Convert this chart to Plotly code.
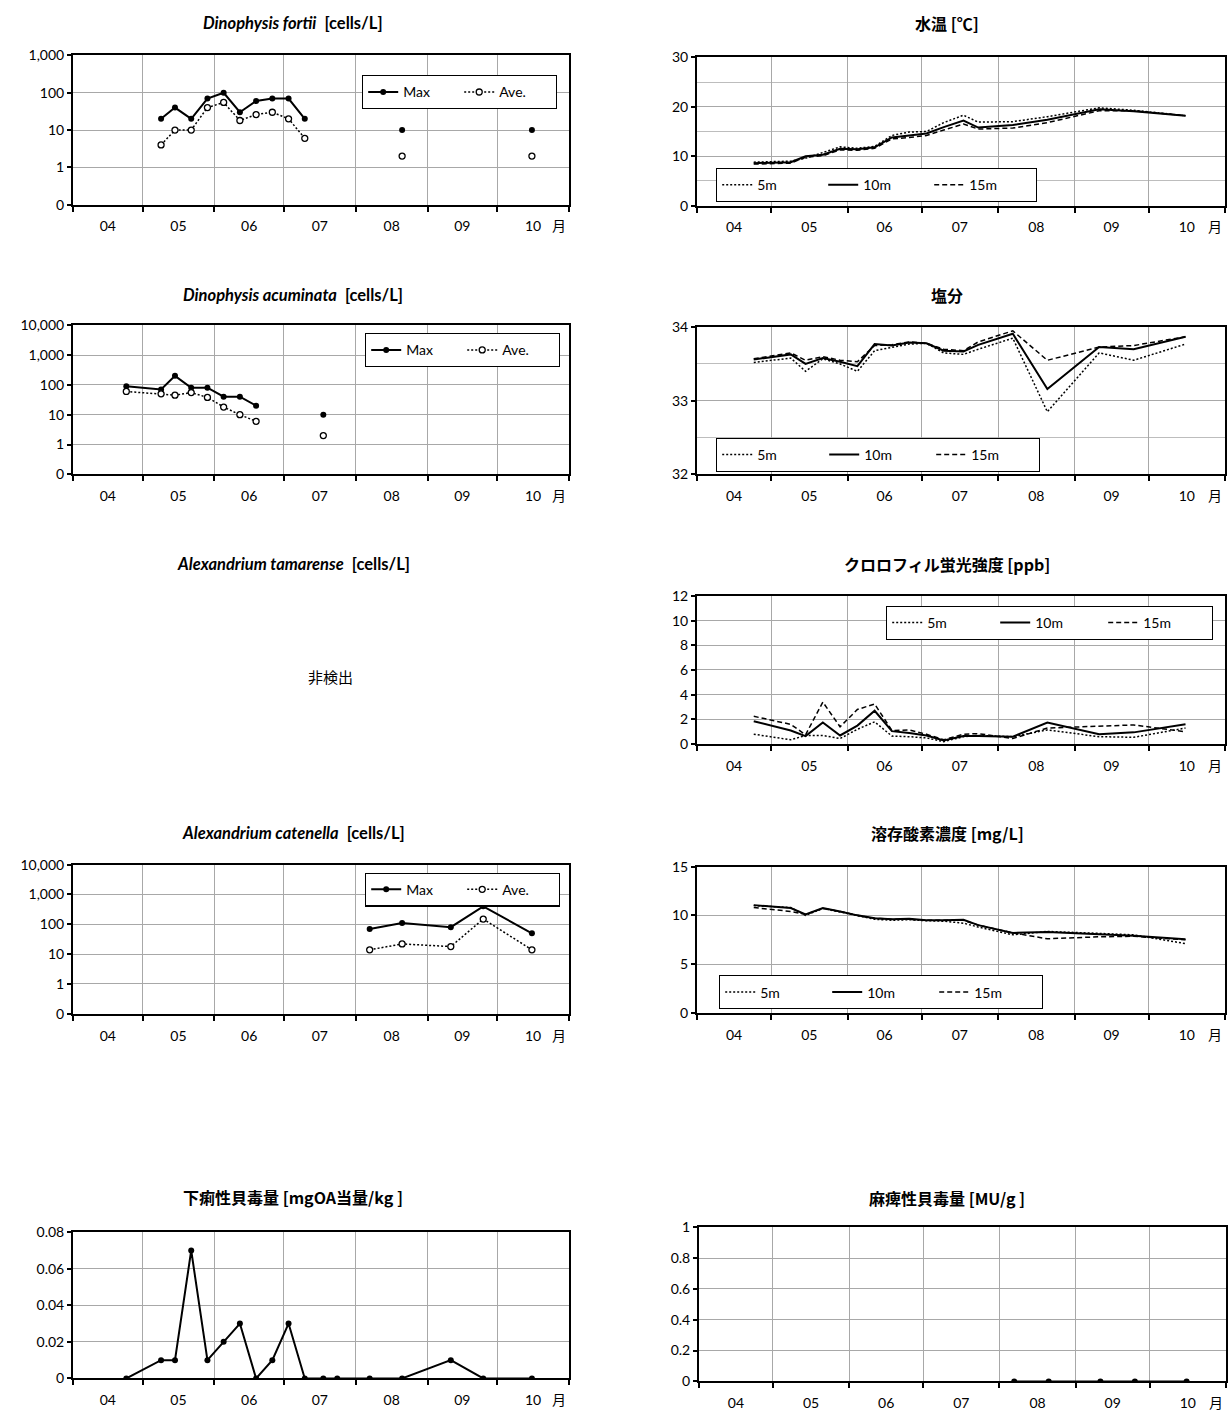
import plotly.graph_objects as go

W, H = 1232, 1421
YEAR = "2014"

# ---------------- data ----------------
sample_dates = ["04-24", "05-09", "05-15", "05-22", "05-29", "06-05", "06-12", "06-19", "06-26",
                "07-03", "07-10", "07-18", "07-24", "08-07", "08-21", "09-11", "09-25", "10-16"]
month_labels = ["04", "05", "06", "07", "08", "09", "10"]

fortii_max = [None, 20, 40, 20, 70, 100, 30, 60, 70, 70, 20, None, None, None, 10, None, None, 10]
fortii_ave = [None, 4, 10, 10, 40, 55, 18, 26, 30, 20, 6, None, None, None, 2, None, None, 2]

acum_max = [90, 70, 200, 80, 80, 40, 40, 20, None, None, None, 10, None, None, None, None, None, None]
acum_ave = [60, 50, 45, 55, 38, 18, 10, 6, None, None, None, 2, None, None, None, None, None, None]

cat_max = [None, None, None, None, None, None, None, None, None, None, None, None, None, 70, 110, 80, 400, 50]
cat_ave = [None, None, None, None, None, None, None, None, None, None, None, None, None, 14, 22, 18, 150, 14]

dsp = [0, 0.01, 0.01, 0.07, 0.01, 0.02, 0.03, 0, 0.01, 0.03, 0, 0, 0, 0, 0, 0.01, 0, 0]
psp = [None, None, None, None, None, None, None, None, None, None, None, None, None, 0, 0, 0, 0, 0]

temp_5 = [8.8, 9.0, 9.6, 10.8, 11.9, 11.6, 12.0, 14.2, 14.9, 15.0, 16.8, 18.3, 16.9, 17.0, 18.0, 19.8, 19.3, 18.2]
temp_10 = [8.6, 8.8, 10.0, 10.3, 11.5, 11.4, 11.8, 13.8, 14.2, 14.6, 15.9, 17.2, 15.8, 16.3, 17.4, 19.5, 19.1, 18.2]
temp_15 = [8.4, 8.6, 9.8, 10.1, 11.3, 11.2, 11.6, 13.5, 13.8, 14.2, 15.3, 16.5, 15.5, 15.7, 16.8, 19.2, 19.2, 18.2]

sal_5 = [33.52, 33.58, 33.40, 33.57, 33.50, 33.40, 33.68, 33.73, 33.77, 33.78, 33.65, 33.63, 33.70, 33.85, 32.85, 33.65, 33.55, 33.77]
sal_10 = [33.56, 33.63, 33.50, 33.58, 33.53, 33.47, 33.77, 33.75, 33.79, 33.78, 33.68, 33.67, 33.76, 33.91, 33.16, 33.73, 33.70, 33.87]
sal_15 = [33.57, 33.65, 33.55, 33.60, 33.55, 33.53, 33.75, 33.76, 33.80, 33.78, 33.70, 33.68, 33.80, 33.95, 33.55, 33.73, 33.75, 33.87]

chl_5 = [0.8, 0.35, 0.7, 0.7, 0.45, 1.2, 1.8, 0.65, 0.6, 0.5, 0.2, 0.6, 0.7, 0.6, 1.15, 0.6, 0.55, 1.3]
chl_10 = [1.85, 1.1, 0.65, 1.75, 0.7, 1.5, 2.7, 1.05, 0.9, 0.7, 0.3, 0.65, 0.65, 0.6, 1.75, 0.8, 0.95, 1.6]
chl_15 = [2.25, 1.6, 0.75, 3.4, 1.4, 2.8, 3.25, 1.1, 1.15, 0.8, 0.35, 0.8, 0.85, 0.45, 1.3, 1.45, 1.55, 1.0]

do_5 = [11.0, 10.8, 10.0, 10.7, 10.35, 9.95, 9.6, 9.5, 9.55, 9.45, 9.4, 9.2, 8.8, 8.0, 8.35, 8.15, 8.0, 7.1]
do_10 = [11.05, 10.75, 10.1, 10.75, 10.4, 10.0, 9.7, 9.6, 9.65, 9.5, 9.5, 9.55, 9.0, 8.2, 8.3, 8.1, 7.9, 7.55]
do_15 = [10.8, 10.4, 10.1, 10.7, 10.4, 10.0, 9.7, 9.6, 9.6, 9.5, 9.5, 9.5, 9.0, 8.2, 7.6, 7.8, 7.85, 7.5]

log_tickvals = [0.1, 1, 10, 100, 1000, 10000]
log_ticktext = ["0", "1", "10", "100", "1,000", "10,000"]

dates = [f"{YEAR}-{d}" for d in sample_dates]

# ---------------- styling ----------------
FONT = "Lato, Noto Sans CJK JP, sans-serif"
JFONT = "Noto Sans CJK JP, Lato, sans-serif"
GRID = "#a8a8a8"
MINOR_GRID = "#bdbdbd"
TICK_SIZE = 14
LEG_SIZE = 14
LAT_TITLE = 16.5
JP_TITLE = 16
DOT = "2px,2px"


def xd(x0, x1):
    return [x0 / W, x1 / W]


def yd(y0, y1):
    return [1 - y1 / H, 1 - y0 / H]


fig = go.Figure()
layout = dict(width=W, height=H, autosize=False, margin=dict(l=0, r=0, t=0, b=0),
              paper_bgcolor="white", plot_bgcolor="white", showlegend=True,
              font=dict(family=FONT, size=12, color="black"))
annotations = []


def add_axes(i, xpx, ypx, yaxis_cfg):
    sx = "" if i == 1 else str(i)
    layout["xaxis" + sx] = dict(
        domain=xd(*xpx), anchor="y" + sx, type="date",
        range=[f"{YEAR}-04-01", f"{YEAR}-11-01"], tick0=f"{YEAR}-04-01", dtick="M1",
        tickformat="%m", ticklabelmode="period", ticks="outside", ticklen=5, tickwidth=1.5,
        tickcolor="black", showgrid=True, gridcolor=GRID, gridwidth=1,
        showline=True, linecolor="black", linewidth=2, mirror=True,
        tickfont=dict(family=FONT, size=TICK_SIZE), ticklabelstandoff=3, zeroline=False)
    ya = dict(domain=yd(*ypx), anchor="x" + sx, ticks="outside", ticklen=4, tickwidth=1.5,
              tickcolor="black", showgrid=True, gridcolor=GRID, gridwidth=1,
              showline=True, linecolor="black", linewidth=2, mirror=True, zeroline=False,
              tickfont=dict(family=FONT, size=TICK_SIZE))
    ya.update(yaxis_cfg)
    layout["yaxis" + sx] = ya
    annotations.append(dict(text="月", x=(xpx[1] - 10) / W, y=1 - (ypx[1] + 21) / H,
                            xref="paper", yref="paper", showarrow=False,
                            font=dict(family=JFONT, size=14), xanchor="center", yanchor="middle"))


def add_title(text, xc, yc, size=LAT_TITLE, family=FONT):
    annotations.append(dict(text=text, x=xc / W, y=1 - yc / H, xref="paper", yref="paper",
                            showarrow=False, font=dict(family=family, size=size),
                            xanchor="center", yanchor="middle"))


def add_legend(name, left, top, entry):
    layout[name] = dict(x=left / W, y=1 - top / H, xanchor="left", yanchor="top",
                        orientation="h", bordercolor="black", borderwidth=1.2,
                        bgcolor="white", font=dict(family=FONT, size=LEG_SIZE),
                        entrywidth=entry, entrywidthmode="pixels",
                        itemclick=False, itemdoubleclick=False)


def maxave(i, ymax, yave, legend):
    sx = "" if i == 1 else str(i)
    fig.add_trace(go.Scatter(x=dates, y=ymax, name="Max", mode="lines+markers",
                             line=dict(color="black", width=2),
                             marker=dict(symbol="circle", size=6, color="black"),
                             connectgaps=False, xaxis="x" + sx, yaxis="y" + sx, legend=legend))
    fig.add_trace(go.Scatter(x=dates, y=yave, name="Ave.", mode="lines+markers",
                             line=dict(color="black", width=1.5, dash=DOT),
                             marker=dict(symbol="circle", size=6, color="white",
                                         line=dict(color="black", width=1.3)),
                             connectgaps=False, xaxis="x" + sx, yaxis="y" + sx, legend=legend))


def depths(i, y5, y10, y15, legend):
    sx = "" if i == 1 else str(i)
    fig.add_trace(go.Scatter(x=dates, y=y5, name="5m", mode="lines",
                             line=dict(color="black", width=1.5, dash=DOT),
                             xaxis="x" + sx, yaxis="y" + sx, legend=legend))
    fig.add_trace(go.Scatter(x=dates, y=y10, name="10m", mode="lines",
                             line=dict(color="black", width=2),
                             xaxis="x" + sx, yaxis="y" + sx, legend=legend))
    fig.add_trace(go.Scatter(x=dates, y=y15, name="15m", mode="lines",
                             line=dict(color="black", width=1.5, dash="5px,3px"),
                             xaxis="x" + sx, yaxis="y" + sx, legend=legend))


LEFT_X = (73, 569)
RIGHT_X = (697, 1225)
LEFT_TC = 293
RIGHT_TC = 947

log3 = dict(type="log", range=[-1, 3], tickvals=log_tickvals[:5], ticktext=log_ticktext[:5])
log4 = dict(type="log", range=[-1, 4], tickvals=log_tickvals, ticktext=log_ticktext)

# 1: Dinophysis fortii
add_axes(1, LEFT_X, (47, 198), log3)
maxave(1, fortii_max, fortii_ave, "legend")
add_legend("legend", 362, 67, 51)
add_title("<b><i>Dinophysis fortii</i> &nbsp;[cells/L]</b>", LEFT_TC, 14)

# 2: water temperature
add_axes(2, RIGHT_X, (49, 199), dict(range=[0, 30], dtick=10,
                                     minor=dict(dtick=5, showgrid=True, gridcolor=MINOR_GRID, ticks="")))
depths(2, temp_5, temp_10, temp_15, "legend2")
add_legend("legend2", 716, 161, 61)
add_title("<b>水温 [℃]</b>", RIGHT_TC, 14, JP_TITLE, JFONT)

# 3: Dinophysis acuminata
add_axes(3, LEFT_X, (320, 471), log4)
maxave(3, acum_max, acum_ave, "legend3")
add_legend("legend3", 365, 328, 51)
add_title("<b><i>Dinophysis acuminata</i> &nbsp;[cells/L]</b>", LEFT_TC, 289)

# 4: salinity
add_axes(4, RIGHT_X, (322, 471), dict(range=[32, 34], dtick=1,
                                      minor=dict(dtick=0.5, showgrid=True, gridcolor=MINOR_GRID, ticks="")))
depths(4, sal_5, sal_10, sal_15, "legend4")
add_legend("legend4", 716, 434, 62)
add_title("<b>塩分</b>", RIGHT_TC, 289, JP_TITLE, JFONT)

# 5: Alexandrium tamarense (not detected)
add_title("<b><i>Alexandrium tamarense</i> &nbsp;[cells/L]</b>", LEFT_TC, 562)
annotations.append(dict(text="非検出", x=330 / W, y=1 - 676 / H, xref="paper", yref="paper",
                        showarrow=False, font=dict(family=JFONT, size=15),
                        xanchor="center", yanchor="middle"))

# 6: chlorophyll
add_axes(6, RIGHT_X, (594, 744), dict(range=[0, 12], dtick=2))
depths(6, chl_5, chl_10, chl_15, "legend6")
add_legend("legend6", 886, 604, 63)
add_title("<b>クロロフィル蛍光強度 [ppb]</b>", RIGHT_TC, 562, JP_TITLE, JFONT)

# 7: Alexandrium catenella
add_axes(7, LEFT_X, (866, 1017), log4)
maxave(7, cat_max, cat_ave, "legend7")
add_legend("legend7", 365, 874, 51)
add_title("<b><i>Alexandrium catenella</i> &nbsp;[cells/L]</b>", LEFT_TC, 834)

# 8: dissolved oxygen
add_axes(8, RIGHT_X, (868, 1016), dict(range=[0, 15], dtick=5))
depths(8, do_5, do_10, do_15, "legend8")
add_legend("legend8", 719, 978, 62)
add_title("<b>溶存酸素濃度 [mg/L]</b>", RIGHT_TC, 834, JP_TITLE, JFONT)

# 9: DSP toxin
add_axes(9, LEFT_X, (1238, 1386), dict(range=[0, 0.08], dtick=0.02))
fig.add_trace(go.Scatter(x=dates, y=dsp, mode="lines+markers", showlegend=False,
                         line=dict(color="black", width=2),
                         marker=dict(symbol="circle", size=6, color="black"),
                         xaxis="x9", yaxis="y9"))
add_title("<b>下痢性貝毒量 [mgOA当量/kg ]</b>", LEFT_TC, 1202, JP_TITLE, JFONT)

# 10: PSP toxin
add_axes(10, (699, 1226), (1233, 1389), dict(range=[0, 1], dtick=0.2))
fig.add_trace(go.Scatter(x=dates, y=psp, mode="lines+markers", showlegend=False,
                         line=dict(color="black", width=2),
                         marker=dict(symbol="circle", size=6, color="black"),
                         xaxis="x10", yaxis="y10"))
add_title("<b>麻痺性貝毒量 [MU/g ]</b>", RIGHT_TC, 1203, JP_TITLE, JFONT)

layout["annotations"] = annotations
fig.update_layout(**layout)
fig.write_html("out.html",
               config={"responsive": False, "displayModeBar": False},
               post_script="document.body.style.margin='0px';")
